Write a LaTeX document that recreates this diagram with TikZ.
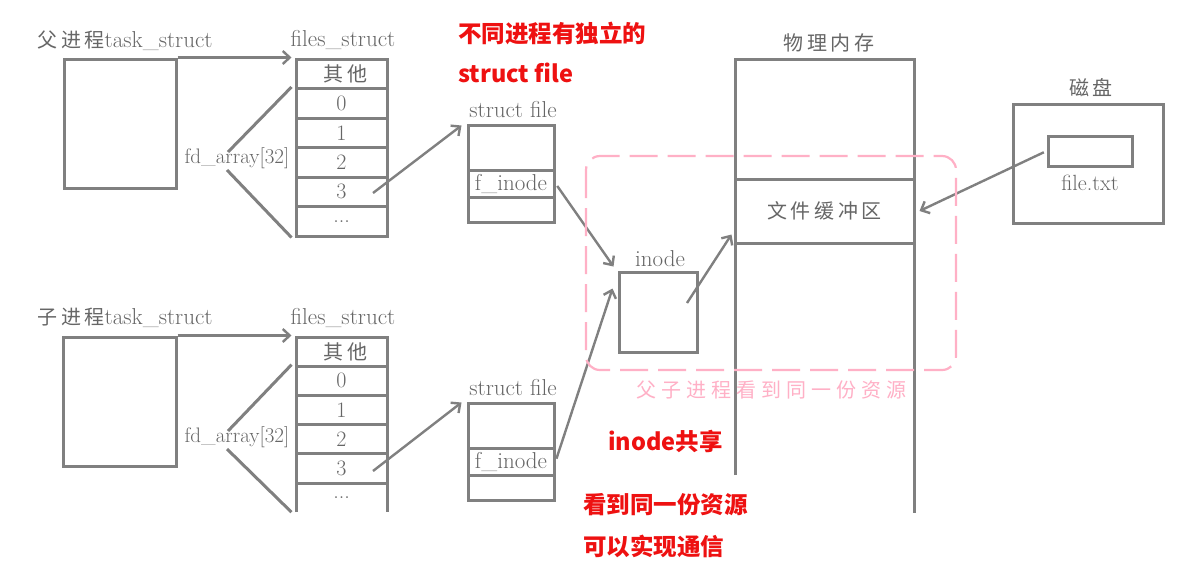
\documentclass[tikz,border=0pt]{standalone}
\usepackage{fontspec}
\usetikzlibrary{arrows.meta}
\newfontfamily\cjk{Noto Sans CJK SC}[LetterSpace=18]
\newfontfamily\cjkb{Noto Sans CJK SC}
\newcommand\fsz[1]{\fontsize{#1}{#1}\selectfont}
\definecolor{lc}{HTML}{808080}
\definecolor{tc}{HTML}{666666}
\definecolor{pk}{HTML}{FFB0C6}
\definecolor{rd}{HTML}{EE1111}
\begin{document}
\begin{tikzpicture}[x=1pt,y=-1pt,
  ln/.style={draw=lc, line width=3pt},
  lbl/.style={text=tc, inner sep=0pt, font=\fsz{23}},
  cell/.style={ln, minimum width=91pt, minimum height=29.5pt, inner sep=0pt, text=tc, font=\fsz{22}},
  ccell/.style={cell, minimum height=29.2pt},
  sfcell/.style={ln, minimum width=86pt, inner sep=0pt, text=tc, font=\fsz{23}},
  box/.style={ln, inner sep=0pt},
  arr/.style={draw=lc, line width=2.4pt, -{Straight Barb[length=7pt,width=13pt,line width=2.4pt]}},
  seg/.style={draw=lc, line width=3pt},
  red/.style={text=rd, inner sep=0pt, anchor=west, font=\cjkb\bfseries\fsz{23.5}}
]
\fill[white] (0,0) rectangle (1177,574);
\useasboundingbox (0,0) rectangle (1177,574);

% ---------- parent ----------
\node[lbl] (plabel) at (121,41) {{\cjk\fsz{20} 父进程}task\_struct};
\node[box, minimum width=112pt, minimum height=129pt] (ptask) at (120,123.5) {};
\node[lbl] (pfslabel) at (343,40) {files\_struct};
\node[cell] (pt0) at (341.5,73.75) {\cjk\fsz{20} 其他};
\node[cell] (pt1) at (341.5,103.25) {0};
\node[cell] (pt2) at (341.5,132.75) {1};
\node[cell] (pt3) at (341.5,162.25) {2};
\node[cell] (pt4) at (341.5,191.75) {3};
\node[cell] (pt5) at (341.5,221.25) {...};
\draw[arr] (ptask.north east) -- ([xshift=-3pt]pt0.north west);
\node[lbl, font=\fsz{21}] (pfd) at (237,158) {fd\_array[32]};
\coordinate (pfa) at (228,152);
\coordinate (pfb) at (227,170);
\draw[seg] (pfa) -- ([xshift=-3pt]pt1.north west);
\draw[seg] (pfb) -- ([xshift=-3pt]pt5.south west);

\node[lbl] (psflabel) at (513,110) {struct file};
\node[sfcell, minimum height=45pt] (psf1) at (511,147.5) {};
\node[sfcell, minimum height=27pt] (psf2) at (511,183.5) {f\_inode};
\node[sfcell, minimum height=25pt] (psf3) at (511,209.5) {};
\coordinate (pstart) at (373,193);
\draw[arr] (pstart) -- ([xshift=-5pt,yshift=-2pt]psf1.north west);

% ---------- child ----------
\node[lbl] (clabel) at (121,318) {{\cjk\fsz{20} 子进程}task\_struct};
\node[box, minimum width=113pt, minimum height=129pt] (ctask) at (119.5,401.5) {};
\node[lbl] (cfslabel) at (343,318) {files\_struct};
\node[ccell] (ct0) at (341.5,351.6) {\cjk\fsz{20} 其他};
\node[ccell] (ct1) at (341.5,380.8) {0};
\node[ccell] (ct2) at (341.5,410) {1};
\node[ccell] (ct3) at (341.5,439.2) {2};
\node[ccell] (ct4) at (341.5,468.4) {3};
\node[ccell, draw=none, outer sep=0pt] (ct5) at (341.5,497.6) {...};
\draw[seg] (ct5.south west) -- (ct5.north west) -- (ct5.north east) -- (ct5.south east);
\draw[arr] (ctask.north east) -- ([xshift=-3pt]ct0.north west);
\node[lbl, font=\fsz{21}] (cfd) at (237,437) {fd\_array[32]};
\coordinate (cfa) at (228,431);
\coordinate (cfb) at (227,449);
\draw[seg] (cfa) -- ([xshift=-3pt]ct1.north west);
\draw[seg] (cfb) -- ([xshift=-4.5pt]ct5.south west);

\node[lbl] (csflabel) at (513,388) {struct file};
\node[sfcell, minimum height=45pt] (csf1) at (511,425.5) {};
\node[sfcell, minimum height=27pt] (csf2) at (511,461.5) {f\_inode};
\node[sfcell, minimum height=25pt] (csf3) at (511,487.5) {};
\coordinate (cstart) at (373,471);
\draw[arr] (cstart) -- ([xshift=-5pt,yshift=-1pt]csf1.north west);

% ---------- inode ----------
\node[lbl] (inodelabel) at (660,259) {inode};
\node[box, minimum width=78pt, minimum height=80pt] (inode) at (658,312) {};
\draw[arr, shorten <=3pt] (psf2.east) -- ([xshift=-4pt,yshift=4pt]inode.north west);
\draw[arr, shorten <=3pt] (csf2.east) -- ([xshift=-5pt,yshift=-18pt]inode.north west);

% ---------- memory ----------
\node[lbl] (memlabel) at (825,43) {\cjk\fsz{20} 物理内存};
\node[box, minimum width=179pt, minimum height=64pt, text=tc, font=\cjk\fsz{20}] (buf) at (824.5,211) {文件缓冲区};
\coordinate (mtl) at (735,59);
\coordinate (mtr) at (914,59);
\coordinate (mbl) at (735,475);
\coordinate (mbr) at (914,513);
\draw[seg] (mbl) -- (mtl) -- (mtr) -- (mbr);
\coordinate (istart) at (687,303);
\draw[arr] (istart) -- ([xshift=-2pt,yshift=10pt]buf.south west);

% ---------- disk ----------
\node[lbl] (disklabel) at (1087,88) {\cjk\fsz{20} 磁盘};
\node[box, minimum width=150pt, minimum height=119pt] (disk) at (1088,163.5) {};
\node[box, minimum width=84pt, minimum height=30pt] (file) at (1090,151) {};
\node[lbl, font=\fsz{22}] (filelabel) at (1090,183) {file.txt};
\draw[arr, shorten <=3pt] (file.west) -- ([xshift=4pt]buf.east);

% ---------- shared region ----------
\draw[pk, line width=2.2pt, rounded corners=14pt, dash pattern=on 28pt off 10pt] (586,156) rectangle (956,370);
\node[text=pk, inner sep=0pt, font=\cjk\fsz{20}\addfontfeature{LetterSpace=25}] (sharelabel) at (771,390) {父子进程看到同一份资源};

% ---------- red notes ----------
\node[red] (r1) at (458,33) {不同进程有独立的};
\node[red] (r2) at (458,73) {struct file};
\node[red] (r3) at (608,441) {inode共享};
\node[red] (r4) at (583,505) {看到同一份资源};
\node[red] (r5) at (583,546) {可以实现通信};
\end{tikzpicture}
\end{document}
